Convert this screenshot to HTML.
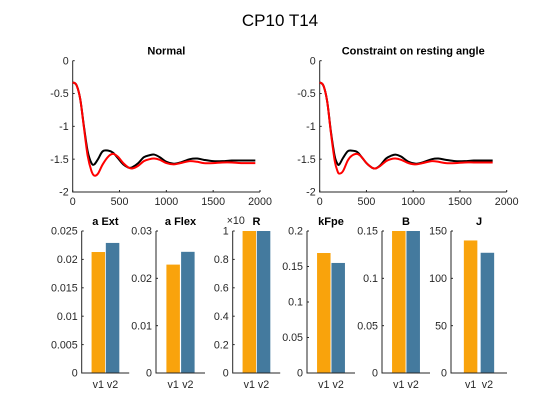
<!DOCTYPE html>
<html><head><meta charset="utf-8"><style>
body{margin:0;background:#fff;}
svg{display:block;font-family:"Liberation Sans",Arial,sans-serif;}
</style></head><body>
<svg id="fig" width="560" height="420" viewBox="0 0 560 420">
<text x="280" y="26" text-anchor="middle" font-size="17" fill="#000">CP10 T14</text>
</svg>
<script>
// Line chart data
const normalX = [0,40,80,120,160,200,230,270,320,380,430,480,540,600,640,700,760,820,870,930,1000,1080,1150,1250,1330,1400,1500,1600,1700,1800,1950];
const normalBlack = [-0.33,-0.37,-0.58,-1.0,-1.38,-1.56,-1.58,-1.50,-1.38,-1.37,-1.40,-1.48,-1.58,-1.63,-1.62,-1.56,-1.47,-1.44,-1.43,-1.47,-1.54,-1.57,-1.55,-1.50,-1.49,-1.51,-1.53,-1.53,-1.52,-1.52,-1.52];
const normalRed = [-0.33,-0.37,-0.58,-1.02,-1.45,-1.68,-1.75,-1.72,-1.58,-1.46,-1.42,-1.46,-1.56,-1.63,-1.64,-1.60,-1.53,-1.50,-1.49,-1.51,-1.56,-1.58,-1.56,-1.53,-1.54,-1.56,-1.56,-1.55,-1.55,-1.56,-1.56];
const constrX = [0,40,80,120,160,190,210,250,300,340,400,450,500,560,600,650,710,760,810,870,950,1030,1100,1200,1270,1350,1450,1550,1650,1750,1850];
const constrBlack = [-0.33,-0.38,-0.62,-1.08,-1.45,-1.57,-1.58,-1.48,-1.38,-1.37,-1.39,-1.47,-1.56,-1.63,-1.64,-1.59,-1.49,-1.45,-1.43,-1.46,-1.54,-1.57,-1.55,-1.50,-1.49,-1.51,-1.53,-1.53,-1.52,-1.52,-1.52];
const constrRed = [-0.33,-0.38,-0.62,-1.1,-1.52,-1.68,-1.72,-1.68,-1.52,-1.45,-1.42,-1.47,-1.56,-1.63,-1.64,-1.60,-1.53,-1.50,-1.49,-1.51,-1.56,-1.58,-1.56,-1.53,-1.54,-1.56,-1.56,-1.55,-1.55,-1.55,-1.55];
const xTicks = [0,500,1000,1500,2000];
const xTickLabels = ["0","500","1000","1500","2000"];
const yTicks = [0,-0.5,-1,-1.5,-2];
const yTickLabels = ["0","-0.5","-1","-1.5","-2"];
// Bar chart data
const barTitles = ["a Ext","a Flex","R","kFpe","B","J"];
const barV1 = [0.0213,0.0229,1,0.169,0.15,140];
const barV2 = [0.0229,0.0256,1,0.155,0.15,127];
const barYMax = [0.025,0.03,1,0.2,0.15,150];
const barTicks = [[0,0.005,0.01,0.015,0.02,0.025],[0,0.01,0.02,0.03],[0,0.2,0.4,0.6,0.8,1],[0,0.05,0.1,0.15,0.2],[0,0.05,0.1,0.15],[0,50,100,150]];
const barTickLabels = [["0","0.005","0.01","0.015","0.02","0.025"],["0","0.01","0.02","0.03"],["0","0.2","0.4","0.6","0.8","1"],["0","0.05","0.1","0.15","0.2"],["0","0.05","0.1","0.15"],["0","50","100","150"]];
const barCats = ["v1","v2"];

const NS="http://www.w3.org/2000/svg";
const svg=document.getElementById('fig');
function mk(tag,attrs,parent){const e=document.createElementNS(NS,tag);for(const k in attrs)e.setAttribute(k,attrs[k]);(parent||svg).appendChild(e);return e;}
const TC="#262626";
const FS=10.7;

function smoothPath(pts){
  let d="M"+pts[0][0].toFixed(2)+","+pts[0][1].toFixed(2);
  for(let i=0;i<pts.length-1;i++){
    const p0=pts[Math.max(i-1,0)],p1=pts[i],p2=pts[i+1],p3=pts[Math.min(i+2,pts.length-1)];
    const c1=[p1[0]+(p2[0]-p0[0])/6,p1[1]+(p2[1]-p0[1])/6];
    const c2=[p2[0]-(p3[0]-p1[0])/6,p2[1]-(p3[1]-p1[1])/6];
    d+=" C"+c1[0].toFixed(2)+","+c1[1].toFixed(2)+" "+c2[0].toFixed(2)+","+c2[1].toFixed(2)+" "+p2[0].toFixed(2)+","+p2[1].toFixed(2);
  }
  return d;
}

function lineChart(name,title,L,R,T,B,xs,blk,red){
  const g=mk('g',{});
  
  
  const sx=v=>L+(v-0)/(2000-0)*(R-L);
  const sy=v=>T+(0-v)/(0-(-2))*(B-T);
  const t=mk('text',{x:(L+R)/2,y:T-6,'text-anchor':'middle','font-size':11,'font-weight':'bold',fill:'#000'},g);
  t.textContent=title;
  
  
  const ax=mk('path',{d:`M${L},${T}V${B}H${R}`,stroke:TC,fill:'none','stroke-width':1},g);
  
  
  xTicks.forEach((v,i)=>{
    mk('line',{x1:sx(v),x2:sx(v),y1:B,y2:B-2,stroke:TC},g);
    const tx=mk('text',{x:sx(v),y:B+13,'text-anchor':'middle','font-size':FS,fill:TC},g);
    tx.textContent=xTickLabels[i];
    
    
  });
  yTicks.forEach((v,i)=>{
    mk('line',{x1:L,x2:L+2,y1:sy(v),y2:sy(v),stroke:TC},g);
    const tx=mk('text',{x:L-4,y:sy(v)+3.7,'text-anchor':'end','font-size':FS,fill:TC},g);
    tx.textContent=yTickLabels[i];
    
    
  });
  const pb=mk('path',{d:smoothPath(xs.map((x,i)=>[sx(x),sy(blk[i])])),stroke:'#000',fill:'none','stroke-width':2},g);
  
  
  const pr=mk('path',{d:smoothPath(xs.map((x,i)=>[sx(x),sy(red[i])])),stroke:'#f00',fill:'none','stroke-width':2},g);
  
  
}
lineChart('normal-chart','Normal',72.7,260,60.7,192,normalX,normalBlack,normalRed);
lineChart('constraint-chart','Constraint on resting angle',319.7,506.7,60.7,192,constrX,constrBlack,constrRed);

const lefts=[81.7,156,232.7,307,382,451];
const widths=[47.5,49,47.5,48,48,56];
const BT=231,BB=373;
barTitles.forEach((ttl,k)=>{
  const L=lefts[k],W=widths[k],R=L+W;
  const g=mk('g',{});
  
  
  const sy=v=>BB-v/barYMax[k]*(BB-BT);
  const vals=[barV1[k],barV2[k]];
  const cols=['#f9a30c','#447a9e'];
  const cx=[0.35,0.65];
  vals.forEach((v,i)=>{
    const bw=13.5;
    const r=mk('rect',{x:L+cx[i]*W-bw/2,y:sy(v),width:bw,height:BB-sy(v),fill:cols[i]},g);
    
    
    const tl=mk('text',{x:L+cx[i]*W,y:BB+15,'text-anchor':'middle','font-size':FS,fill:TC},g);
    tl.textContent=barCats[i];
    
    
  });
  const ax=mk('path',{d:`M${L},${BT}V${BB}H${R}`,stroke:TC,fill:'none'},g);
  
  
  barTicks[k].forEach((v,i)=>{
    mk('line',{x1:L,x2:L+2,y1:sy(v),y2:sy(v),stroke:TC},g);
    const tx=mk('text',{x:L-4,y:sy(v)+3.7,'text-anchor':'end','font-size':FS,fill:TC},g);
    tx.textContent=barTickLabels[k][i];
    
    
  });
  const t=mk('text',{x:L+W/2,y:BT-6,'text-anchor':'middle','font-size':11,'font-weight':'bold',fill:'#000'},g);
  t.textContent=ttl;
  
  
  if(ttl==='R'){
    const e=mk('text',{x:L-6,y:BT-7,'font-size':FS,fill:TC},g);
    e.textContent='×10';
    
    
  }
});
</script>
</body></html>
